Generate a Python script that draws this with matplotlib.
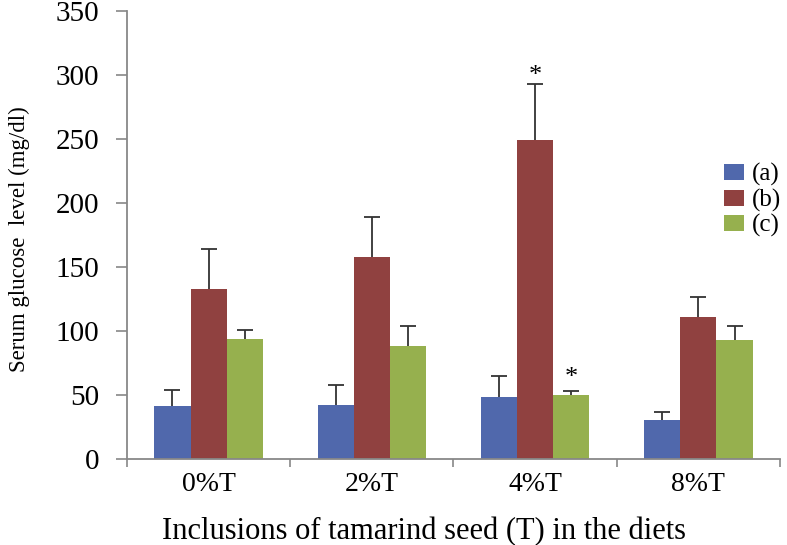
import numpy as np
import matplotlib
matplotlib.use("Agg")
import matplotlib.pyplot as plt

# Dados
categorias = ["0%T", "2%T", "4%T", "8%T"]
series = ["(a)", "(b)", "(c)"]
valores_a = [41.5, 42.3, 48.3, 30.4]
valores_b = [132.5, 157.9, 249.4, 111.2]
valores_c = [93.8, 88.5, 49.9, 93.0]
erro_a = [12.5, 15.4, 16.6, 6.7]
erro_b = [31.5, 31.5, 43.6, 15.3]
erro_c = [7.0, 15.4, 3.3, 10.9]
cores = ["#5068AC", "#904140", "#96B04E"]

valores = [valores_a, valores_b, valores_c]
erros = [erro_a, erro_b, erro_c]

plt.rcParams["font.family"] = ["Liberation Serif", "DejaVu Serif"]

fig = plt.figure(figsize=(7.87, 5.45), dpi=100)
ax = fig.add_axes([0.1614, 0.1573, 0.8296, 0.8231])

x = np.arange(len(categorias))
largura = 0.222
for i in range(3):
    pos = x + (i - 1) * largura
    ax.bar(pos, valores[i], largura, color=cores[i], label=series[i],
           edgecolor="none", zorder=2)
    # barra de erro atras da barra: so a parte de cima aparece
    ax.errorbar(pos, valores[i], yerr=erros[i], fmt="none",
                ecolor="#333333", elinewidth=1.3, capsize=6, capthick=1.3,
                zorder=1)

# Asteriscos
ax.text(x[2], valores_b[2] + erro_b[2] + 6, "*", ha="center", va="center",
        fontsize=19)
ax.text(x[2] + largura, valores_c[2] + erro_c[2] + 10, "*", ha="center",
        va="center", fontsize=19)

ax.set_xlim(-0.5, 3.5)
ax.set_ylim(0, 350)
ax.set_yticks(range(0, 351, 50))
ax.set_xticks(x)
ax.set_xticklabels(categorias)
ax.set_xticks([-0.5, 0.5, 1.5, 2.5, 3.5], minor=True)
ax.tick_params(axis="x", which="major", length=0, pad=9, labelsize=20)
ax.tick_params(axis="x", which="minor", length=6, color="#888888", width=1.2)
ax.tick_params(axis="y", length=8, color="#888888", width=1.2, pad=12,
               labelsize=21)

for lado in ["top", "right"]:
    ax.spines[lado].set_visible(False)
for lado in ["left", "bottom"]:
    ax.spines[lado].set_color("#888888")
    ax.spines[lado].set_linewidth(1.3)

ax.set_xlabel("Inclusions of tamarind seed (T) in the diets", fontsize=22)
ax.xaxis.set_label_coords(0.455, -0.128)
ax.set_ylabel("Serum glucose  level (mg/dl)", fontsize=16.5)
ax.yaxis.set_label_coords(-0.148, 0.49)

ax.legend(loc="upper left", bbox_to_anchor=(0.915, 0.66), frameon=False,
          fontsize=18, handlelength=0.8, handleheight=0.6, handletextpad=0.3,
          labelspacing=0.1, borderaxespad=0, borderpad=0)

fig.savefig("out.png", dpi=100)
